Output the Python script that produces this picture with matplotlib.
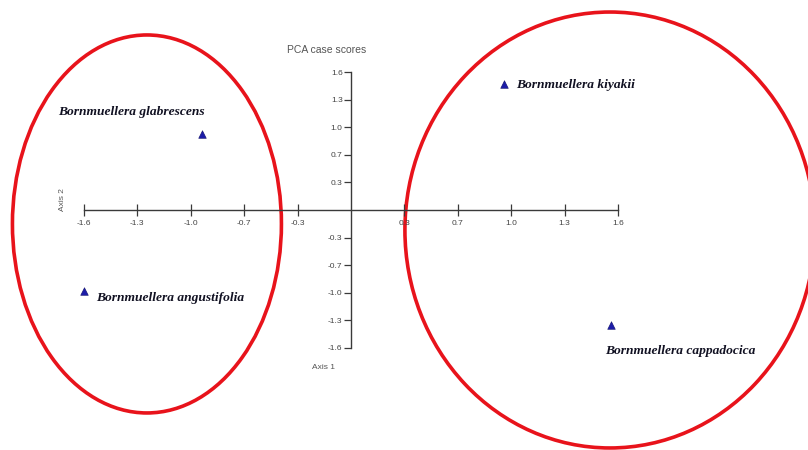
import matplotlib
matplotlib.use('Agg')
import matplotlib.pyplot as plt
from matplotlib.patches import Ellipse

# PCA case scores
species = ['Bornmuellera glabrescens', 'Bornmuellera angustifolia',
           'Bornmuellera kiyakii', 'Bornmuellera cappadocica']
axis1 = [-0.89, -1.60, 0.92, 1.56]
axis2 = [0.88, -0.94, 1.46, -1.33]

tick_values = [-1.6, -1.28, -0.96, -0.64, -0.32, 0.32, 0.64, 0.96, 1.28, 1.6]
x_tick_labels = ['-1.6', '-1.3', '-1.0', '-0.7', '-0.3',
                 '0.3', '0.7', '1.0', '1.3', '1.6']
y_tick_labels = ['-1.6', '-1.3', '-1.0', '-0.7', '-0.3',
                 '0.3', '0.7', '1.0', '1.3', '1.6']

# group ellipses: (centre x, centre y, width, height)
groups = [(-1.2225, -0.162, 1.612, 4.383),
          (1.552, -0.232, 2.457, 5.055)]

narrow = ['Liberation Sans Narrow', 'Liberation Sans', 'DejaVu Sans']
label_font = ['Liberation Serif', 'DejaVu Serif']

fig = plt.figure(figsize=(8.08, 4.5), dpi=100)
ax = fig.add_axes([0, 0, 1, 1])
ax.set_xlim(-2.103, 2.739)
ax.set_ylim(-2.783, 2.435)

for side in ['top', 'right']:
    ax.spines[side].set_visible(False)
ax.spines['left'].set_position(('data', 0))
ax.spines['bottom'].set_position(('data', 0))
ax.spines['left'].set_bounds(-1.6, 1.6)
ax.spines['bottom'].set_bounds(-1.6, 1.6)
for side in ['left', 'bottom']:
    ax.spines[side].set_color('#3a3a3a')
    ax.spines[side].set_linewidth(1.0)

ax.set_xticks(tick_values)
ax.set_xticklabels(x_tick_labels, family=narrow, fontsize=6,
                   color='#444444')
ax.set_yticks(tick_values)
ax.set_yticklabels(y_tick_labels, family=narrow, fontsize=6,
                   color='#444444')
ax.tick_params(axis='x', direction='inout', length=9, width=0.9,
               color='#3a3a3a', pad=3)
ax.tick_params(axis='y', direction='out', length=5, width=0.9,
               color='#3a3a3a', pad=1)

ax.text(-0.145, 1.85, 'PCA case scores', family=narrow, fontsize=7.5,
        color='#555555', ha='center', va='center')
ax.text(-1.73, 0.12, 'Axis 2', family=narrow, fontsize=6,
        color='#555555', ha='center', va='center', rotation=90)
ax.text(-0.165, -1.83, 'Axis 1', family=narrow, fontsize=6,
        color='#555555', ha='center', va='center')

for cx, cy, w, h in groups:
    ax.add_patch(Ellipse((cx, cy), w, h, fill=False, edgecolor='#e8131b',
                         linewidth=2.6, clip_on=False))

ax.scatter(axis1, axis2, marker='^', s=30, color='#1c1ca8',
           edgecolors='#10106a', linewidths=0.4, zorder=5)

offsets = [(-144, 22, 'left', 'center'),
           (12, -7, 'left', 'center'),
           (12, -1, 'left', 'center'),
           (-6, -26, 'left', 'center')]
for name, x, y, (dx, dy, ha, va) in zip(species, axis1, axis2, offsets):
    ax.annotate(name, (x, y), xytext=(dx, dy), textcoords='offset pixels',
                family=label_font, fontsize=9.7, fontstyle='italic',
                fontweight='bold', color='#111122', ha=ha, va=va)

fig.savefig('out.png', dpi=100)
